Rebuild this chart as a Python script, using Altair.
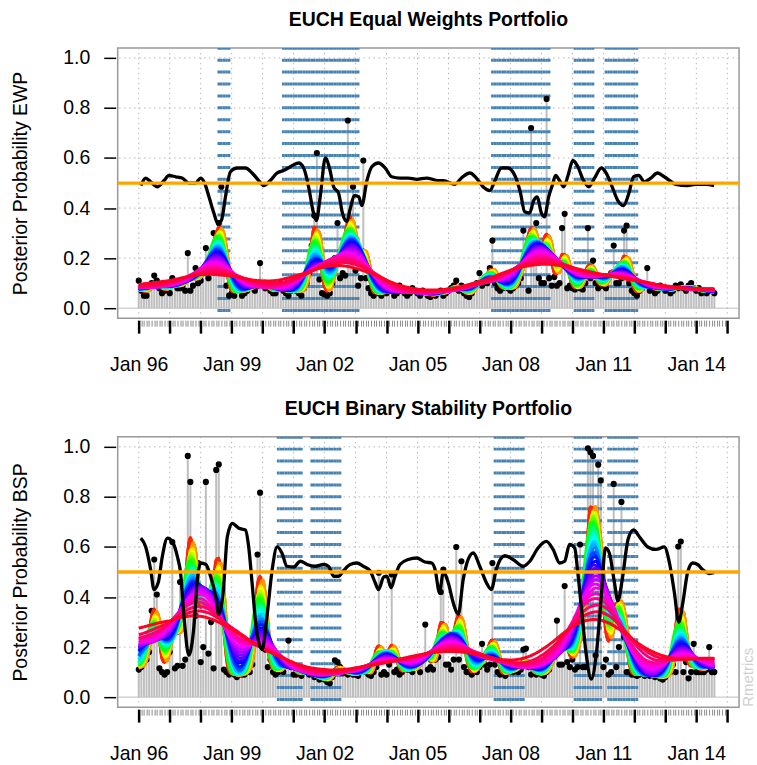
import colorsys
import altair as alt
import pandas as pd

FONT = "Liberation Sans"
PW, PH = 623, 271
X_DOMAIN = [1995.32, 2015.38]
Y_DOMAIN = [-0.04, 1.04]

# ---------------- data (monthly, Jan 1996 .. Aug 2014) ----------------
start_month = "1996-01"

ewp_by_year = [
    [0.11, 0.07, 0.05, 0.05, 0.08, 0.10, 0.13, 0.11, 0.08, 0.06, 0.07, 0.09],  # 1996
    [0.06, 0.12, 0.10, 0.08, 0.08, 0.09, 0.07, 0.22, 0.07, 0.09, 0.16, 0.10],  # 1997
    [0.11, 0.14, 0.24, 0.12, 0.18, 0.30, 0.27, 0.34, 0.485, 0.22, 0.09, 0.05],  # 1998
    [0.06, 0.05, 0.08, 0.09, 0.05, 0.06, 0.07, 0.10, 0.08, 0.07, 0.09, 0.18],  # 1999
    [0.10, 0.08, 0.09, 0.07, 0.06, 0.06, 0.08, 0.10, 0.07, 0.06, 0.05, 0.07],  # 2000
    [0.09, 0.07, 0.06, 0.05, 0.08, 0.10, 0.14, 0.25, 0.37, 0.62, 0.115, 0.06],  # 2001
    [0.055, 0.05, 0.06, 0.10, 0.20, 0.34, 0.12, 0.14, 0.13, 0.75, 0.20, 0.485],  # 2002
    [0.15, 0.09, 0.12, 0.59, 0.12, 0.08, 0.06, 0.05, 0.07, 0.06, 0.05, 0.07],  # 2003
    [0.06, 0.08, 0.07, 0.05, 0.06, 0.09, 0.07, 0.06, 0.05, 0.06, 0.08, 0.07],  # 2004
    [0.06, 0.05, 0.07, 0.06, 0.05, 0.045, 0.06, 0.05, 0.06, 0.07, 0.05, 0.06],  # 2005
    [0.07, 0.08, 0.09, 0.11, 0.07, 0.09, 0.06, 0.05, 0.045, 0.06, 0.08, 0.10],  # 2006
    [0.14, 0.09, 0.12, 0.10, 0.16, 0.27, 0.10, 0.08, 0.07, 0.08, 0.09, 0.08],  # 2007
    [0.07, 0.08, 0.09, 0.10, 0.12, 0.31, 0.20, 0.07, 0.72, 0.19, 0.34, 0.12],  # 2008
    [0.10, 0.10, 0.836, 0.12, 0.09, 0.125, 0.09, 0.10, 0.32, 0.377, 0.08, 0.09],  # 2009
    [0.08, 0.075, 0.09, 0.08, 0.075, 0.10, 0.32, 0.12, 0.19, 0.10, 0.08, 0.09],  # 2010
    [0.09, 0.08, 0.12, 0.14, 0.25, 0.10, 0.10, 0.12, 0.31, 0.33, 0.10, 0.07],  # 2011
    [0.06, 0.05, 0.07, 0.08, 0.09, 0.16, 0.07, 0.08, 0.06, 0.07, 0.09, 0.08],  # 2012
    [0.07, 0.08, 0.06, 0.07, 0.09, 0.08, 0.095, 0.08, 0.07, 0.09, 0.10, 0.08],  # 2013
    [0.07, 0.08, 0.06, 0.07, 0.06, 0.07, 0.07, 0.06],  # 2014
]

bsp_by_year = [
    [0.11, 0.12, 0.14, 0.15, 0.18, 0.345, 0.55, 0.41, 0.115, 0.10, 0.09, 0.10],  # 1996
    [0.18, 0.62, 0.115, 0.125, 0.46, 0.125, 0.15, 0.964, 0.86, 0.55, 0.325, 0.536],  # 1997
    [0.14, 0.20, 0.86, 0.174, 0.30, 0.115, 0.908, 0.93, 0.325, 0.11, 0.10, 0.09],  # 1998
    [0.10, 0.09, 0.08, 0.09, 0.09, 0.09, 0.11, 0.10, 0.13, 0.22, 0.57, 0.817],  # 1999
    [0.40, 0.19, 0.12, 0.15, 0.10, 0.09, 0.10, 0.12, 0.10, 0.13, 0.226, 0.12],  # 2000
    [0.09, 0.09, 0.10, 0.085, 0.10, 0.11, 0.09, 0.10, 0.08, 0.09, 0.07, 0.08],  # 2001
    [0.07, 0.06, 0.055, 0.08, 0.147, 0.14, 0.12, 0.095, 0.10, 0.09, 0.10, 0.09],  # 2002
    [0.09, 0.085, 0.10, 0.115, 0.10, 0.09, 0.085, 0.10, 0.12, 0.497, 0.09, 0.10],  # 2003
    [0.09, 0.13, 0.49, 0.10, 0.11, 0.09, 0.10, 0.12, 0.11, 0.11, 0.10, 0.12],  # 2004
    [0.12, 0.10, 0.15, 0.29, 0.11, 0.12, 0.11, 0.15, 0.16, 0.42, 0.51, 0.13],  # 2005
    [0.13, 0.11, 0.15, 0.60, 0.15, 0.543, 0.12, 0.10, 0.10, 0.09, 0.11, 0.10],  # 2006
    [0.12, 0.213, 0.13, 0.11, 0.13, 0.536, 0.13, 0.10, 0.09, 0.10, 0.085, 0.10],  # 2007
    [0.11, 0.10, 0.12, 0.10, 0.11, 0.19, 0.194, 0.12, 0.09, 0.10, 0.09, 0.10],  # 2008
    [0.09, 0.085, 0.10, 0.11, 0.15, 0.16, 0.306, 0.13, 0.13, 0.444, 0.14, 0.12],  # 2009
    [0.15, 0.11, 0.12, 0.61, 0.12, 0.12, 0.994, 0.978, 0.964, 0.167, 0.929, 0.866],  # 2010
    [0.12, 0.15, 0.09, 0.10, 0.852, 0.12, 0.20, 0.78, 0.24, 0.10, 0.10, 0.09],  # 2011
    [0.09, 0.085, 0.09, 0.10, 0.085, 0.09, 0.085, 0.09, 0.08, 0.09, 0.075, 0.07],  # 2012
    [0.08, 0.095, 0.10, 0.13, 0.10, 0.602, 0.622, 0.10, 0.14, 0.075, 0.10, 0.213],  # 2013
    [0.10, 0.10, 0.10, 0.10, 0.11, 0.20, 0.10, 0.10],  # 2014
]

# black curve (months since Jan 1996, value)
ewp_curve_month = [0.8, 2.7, 4.6, 7.2, 9.8, 11.7, 14.3, 16.8, 19.4, 22, 24, 25.5, 27.2, 29.1, 30.6, 32,
                   33.6, 35.5, 38.1, 41.4, 43.9, 46.5, 48.4, 51, 53.6, 56.1, 58.7, 61.9, 63.9, 65.8, 67.7,
                   68.8, 70.3, 72.3, 74, 75.5, 77.4, 78.9, 80.6, 82, 83.5, 85.2, 86.4, 88.4, 90.3, 92.9,
                   95.5, 98, 101.2, 104.4, 107.7, 111.5, 116, 118, 122.5, 125, 128.3, 130.8, 133.4, 136,
                   138, 140.5, 143, 145.7, 147.9, 149.5, 151.4, 153, 154.3, 156, 157.2, 158.8, 160.2,
                   161.5, 163, 164.7, 166.3, 168.2, 170.1, 172.3, 174.4, 176.6, 179.2, 181.1, 183.4,
                   185.6, 187.8, 189.9, 191.7, 193.7, 195.9, 198.4, 201, 203.6, 208.1, 212.6, 215.8,
                   219.7, 222.9]
ewp_curve_value = [0.49, 0.52, 0.505, 0.485, 0.51, 0.53, 0.525, 0.52, 0.50, 0.50, 0.52, 0.50, 0.445,
                   0.38, 0.34, 0.35, 0.445, 0.545, 0.56, 0.56, 0.54, 0.51, 0.49, 0.51, 0.54, 0.55, 0.565,
                   0.58, 0.56, 0.485, 0.38, 0.35, 0.445, 0.60, 0.555, 0.485, 0.46, 0.38, 0.347, 0.40,
                   0.45, 0.445, 0.41, 0.51, 0.565, 0.58, 0.56, 0.525, 0.52, 0.52, 0.515, 0.52, 0.51,
                   0.51, 0.495, 0.52, 0.54, 0.52, 0.485, 0.47, 0.51, 0.56, 0.56, 0.53, 0.46, 0.385,
                   0.38, 0.43, 0.445, 0.38, 0.365, 0.445, 0.49, 0.53, 0.51, 0.485, 0.53, 0.59, 0.565,
                   0.51, 0.485, 0.52, 0.56, 0.54, 0.485, 0.43, 0.41, 0.46, 0.525, 0.53, 0.505, 0.52,
                   0.54, 0.525, 0.495, 0.49, 0.495, 0.495, 0.49]

bsp_curve_month = [0.8, 2.7, 4.6, 5.9, 7.6, 9.1, 11.1, 13.1, 15, 16.2, 17.5, 19.4, 21.4, 22.7, 24, 26,
                   27.8, 29.8, 31, 32.7, 34.3, 36.2, 38.8, 41.3, 42.6, 43.9, 45.6, 47.8, 49.7, 51.7,
                   53.6, 55.5, 57.4, 60, 62.6, 65.2, 68.4, 71.6, 73.5, 75.5, 77.4, 79.3, 81.9, 84.5,
                   87, 89.6, 91.6, 92.9, 94.9, 96.1, 97.8, 99.3, 101.2, 104.4, 107.7, 110.9, 113.5,
                   114.8, 116.5, 118, 119.9, 121.8, 123.8, 125.7, 127.6, 129.6, 132.1, 134.7, 136.6,
                   138.5, 141.8, 145, 148.9, 151.5, 154.7, 157.9, 160.5, 163.1, 165, 166.9, 168.9,
                   170.1, 171.8, 173.4, 175.3, 177.2, 179.2, 180.8, 182.3, 184.3, 185.6, 187.5, 189.5,
                   191.7, 194, 197.2, 200.4, 203.6, 205.6, 207.5, 209.2, 210.8, 212.6, 214.6, 216.5,
                   218.4, 221, 222.9]
bsp_curve_value = [0.635, 0.60, 0.51, 0.43, 0.46, 0.56, 0.635, 0.62, 0.56, 0.497, 0.325, 0.167, 0.286,
                   0.47, 0.536, 0.53, 0.483, 0.404, 0.33, 0.418, 0.64, 0.694, 0.675, 0.668, 0.60,
                   0.457, 0.27, 0.19, 0.325, 0.51, 0.60, 0.575, 0.523, 0.52, 0.543, 0.53, 0.523, 0.53,
                   0.523, 0.483, 0.483, 0.505, 0.53, 0.536, 0.523, 0.505, 0.457, 0.43, 0.48, 0.483,
                   0.437, 0.483, 0.53, 0.55, 0.556, 0.54, 0.536, 0.51, 0.418, 0.50, 0.457, 0.378,
                   0.332, 0.47, 0.55, 0.576, 0.523, 0.457, 0.43, 0.51, 0.565, 0.55, 0.523, 0.543,
                   0.596, 0.622, 0.59, 0.536, 0.543, 0.61, 0.596, 0.497, 0.325, 0.167, 0.072, 0.167,
                   0.404, 0.596, 0.576, 0.457, 0.385, 0.483, 0.628, 0.668, 0.64, 0.60, 0.59, 0.60,
                   0.536, 0.418, 0.30, 0.378, 0.497, 0.536, 0.53, 0.51, 0.494, 0.497]

ewp_bands = [("1998-08", "1998-12"), ("2000-09", "2003-02"), ("2007-06", "2009-04"),
             ("2010-02", "2010-09"), ("2011-02", "2012-02")]
bsp_bands = [("2000-07", "2001-04"), ("2001-08", "2002-07"), ("2007-07", "2008-06"),
             ("2010-02", "2010-12"), ("2011-03", "2012-02")]

y_ticks = [0.0, 0.2, 0.4, 0.6, 0.8, 1.0]
grid_years = list(range(1996, 2016))
threshold = 0.5

# ---------------- helpers ----------------
def to_t(period):
    return period.year + (period.month - 1) / 12


def flatten(rows):
    return [v for r in rows for v in r]


ewp_values = flatten(ewp_by_year)
bsp_values = flatten(bsp_by_year)
months = pd.period_range(start_month, periods=len(ewp_values), freq="M")
month_t = [to_t(p) for p in months]
tick_t = [1996 + k / 12 for k in range(0, 19 * 12 + 1)]

# smoothing family: triple moving averages (library window transforms)
N_SMOOTH = 40
SIG_MIN, SIG_MAX = 1.4, 12.0


def pick_widths(target_sd):
    target = target_sd ** 2
    best, best_s = None, 1e9
    for w1 in range(1, 45):
        for w2 in range(w1, min(w1 + 3, 45)):
            for w3 in range(w2, min(w2 + 3, 45)):
                var = ((w1 * w1 - 1) + (w2 * w2 - 1) + (w3 * w3 - 1)) / 12
                s = abs(var - target)
                if s < best_s:
                    best, best_s = (w1, w2, w3), s
    return best


def frame_of(w, flip):
    lo = w // 2
    hi = w - 1 - lo
    return [-hi, lo] if flip else [-lo, hi]


def rainbow(i, n):
    r, g, b = colorsys.hsv_to_rgb(i / n, 1, 1)
    return "#%02x%02x%02x" % (round(r * 255), round(g * 255), round(b * 255))


def panel(values, cm, cv, bands, title, ylab, watermark=False):
    xs = alt.Scale(domain=X_DOMAIN, nice=False, zero=False)
    ys = alt.Scale(domain=Y_DOMAIN, nice=False, zero=False)
    df = pd.DataFrame({"t": month_t, "v": values})
    band_t = []
    for a, b in bands:
        band_t += [to_t(p) for p in pd.period_range(a, b, freq="M")]
    bdf = pd.DataFrame({"t": band_t})
    cdf = pd.DataFrame({"t": [1996 + m / 12 for m in cm], "v": cv})

    is_jan = "datum.value % 1 == 0"
    x_axis = alt.Axis(
        values=tick_t, title=None, domain=False, grid=False, offset=2,
        tickSize=13,
        tickColor={"condition": {"test": is_jan, "value": "#000000"}, "value": "#8a8a8a"},
        tickWidth={"condition": {"test": is_jan, "value": 2.5}, "value": 1},
        tickDash={"condition": {"test": is_jan, "value": [13, 0]}, "value": [6, 20]},
        labelExpr="(datum.value % 1 == 0 && (datum.value - 1996) % 3 == 0) ? 'Jan ' + substring(toString(datum.value), 2, 4) : ''",
        labelFontSize=19.5, labelColor="black", labelPadding=22, labelOverlap=False,
        labelFlush=False, labelBound=False, labelFont=FONT,
    )
    y_axis = alt.Axis(
        values=y_ticks, format=".1f", title=ylab, domain=False, grid=False, offset=2,
        tickSize=12, tickWidth=1.5, tickColor="black", labelFontSize=19.5, labelColor="black",
        labelPadding=14, labelFont=FONT, titleFont=FONT, titleFontSize=19.5,
        titleFontWeight="normal", titleColor="black", titlePadding=32,
    )

    def X(f):
        return alt.X(f, type="quantitative", scale=xs, axis=x_axis)

    def Y(f):
        return alt.Y(f, type="quantitative", scale=ys, axis=y_axis)

    grid_c = "#b8b8b8"
    layers = [
        alt.Chart(df).mark_rule(color="#BEBEBE", strokeWidth=2).encode(
            x=X("t"), y=Y("v"), y2=alt.datum(0)),
        alt.Chart(pd.DataFrame({"g": grid_years})).mark_rule(
            color=grid_c, strokeWidth=1, strokeDash=[1.5, 3.5]).encode(x=X("g")),
        alt.Chart(pd.DataFrame({"g": y_ticks[1:]})).mark_rule(
            color=grid_c, strokeWidth=1, strokeDash=[1.5, 3.5]).encode(y=Y("g")),
        alt.Chart(pd.DataFrame({"g": [0.0]})).mark_rule(color="#BEBEBE", strokeWidth=1).encode(
            y=Y("g")),
        alt.Chart(bdf).mark_rule(color="#4682B4", strokeWidth=2.6, strokeDash=[3, 8.95],
                                 strokeDashOffset=5.7).encode(
            x=X("t"), y=alt.value(PH), y2=alt.value(0)),
        alt.Chart(df).mark_circle(color="black", size=38, opacity=1).encode(x=X("t"), y=Y("v")),
    ]
    for i in range(N_SMOOTH):
        sd = 1 / (1 / SIG_MIN + (1 / SIG_MAX - 1 / SIG_MIN) * i / (N_SMOOTH - 1))
        w1, w2, w3 = pick_widths(sd)
        ch = (
            alt.Chart(df)
            .transform_window(s1="mean(v)", frame=frame_of(w1, False), sort=[{"field": "t"}])
            .transform_window(s2="mean(s1)", frame=frame_of(w2, True), sort=[{"field": "t"}])
            .transform_window(s3="mean(s2)", frame=frame_of(w3, False), sort=[{"field": "t"}])
            .mark_line(color=rainbow(i, N_SMOOTH), strokeWidth=3, interpolate="monotone")
            .encode(x=X("t"), y=Y("s3"))
        )
        layers.append(ch)
    layers.append(
        alt.Chart(cdf).mark_line(color="black", strokeWidth=3.3, interpolate="monotone").encode(
            x=X("t"), y=Y("v"))
    )
    layers.append(
        alt.Chart(pd.DataFrame({"g": [threshold]})).mark_rule(color="#FFA500", strokeWidth=3.3).encode(
            y=Y("g"))
    )
    if watermark:
        layers.append(
            alt.Chart(pd.DataFrame({"s": ["Rmetrics"]})).mark_text(
                angle=270, fontSize=15, color="#cfcfcf", font=FONT, align="center", baseline="bottom"
            ).encode(text="s:N", x=alt.value(PW + 17), y=alt.value(241))
        )
    return alt.layer(*layers).properties(
        width=PW, height=PH,
        title=alt.Title(title, fontSize=19.5, fontWeight="bold", font=FONT, color="black",
                        anchor="middle", frame="group", offset=16),
    )


top = panel(ewp_values, ewp_curve_month, ewp_curve_value, ewp_bands,
            "EUCH Equal Weights Portfolio", "Posterior Probability EWP")
bottom = panel(bsp_values, bsp_curve_month, bsp_curve_value, bsp_bands,
               "EUCH Binary Stability Portfolio", "Posterior Probability BSP", watermark=True)

chart = alt.vconcat(top, bottom, spacing=23).properties(
    padding={"left": 10, "top": 8, "right": 0, "bottom": 0}, background="white"
).configure(font=FONT).configure_view(stroke="#999999", strokeWidth=1.5)

chart.save("out.html", embed_options={"renderer": "svg", "actions": False})
